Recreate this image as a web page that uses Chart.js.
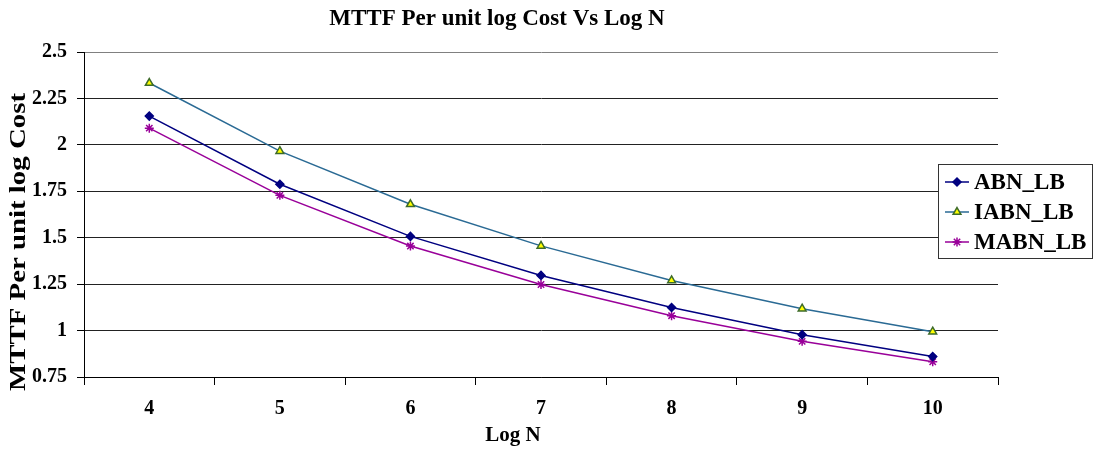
<!DOCTYPE html>
<html>
<head>
<meta charset="utf-8">
<script src="https://cdn.jsdelivr.net/npm/chart.js@4/dist/chart.umd.min.js"></script>
<style>
  html, body { margin: 0; padding: 0; background: #fff; }
  #wrap { width: 1096px; height: 450px; position: relative; }
</style>
</head>
<body>
<div id="wrap"><canvas id="myLineChart"></canvas></div>
<script>
const logN = ['4', '5', '6', '7', '8', '9', '10'];
const abnLB = [2.155, 1.788, 1.507, 1.297, 1.124, 0.978, 0.860];
const iabnLB = [2.333, 1.966, 1.680, 1.456, 1.270, 1.118, 0.994];
const mabnLB = [2.090, 1.728, 1.455, 1.248, 1.080, 0.942, 0.832];
const yTicks = [0.75, 1, 1.25, 1.5, 1.75, 2, 2.25, 2.5];

const chartTitle = 'MTTF Per unit log Cost Vs Log N';
const xTitle = 'Log N';
const yTitle = 'MTTF Per unit log Cost';

const serif = '"Liberation Serif", "Times New Roman", serif';

// titles and the boxed legend are drawn by hand, Excel style
const textPlugin = {
    id: 'excelText',
    afterDraw(chart) {
        const ctx = chart.ctx;
        ctx.save();
        ctx.fillStyle = '#000';
        ctx.textAlign = 'center';
        ctx.textBaseline = 'middle';

        ctx.font = 'bold 23px ' + serif;
        ctx.fillText(chartTitle, 497, 19);

        ctx.font = 'bold 21px ' + serif;
        ctx.fillText(xTitle, 513, 436);

        // y title, a bit longer than its font like in the original picture
        ctx.save();
        ctx.translate(19, 242);
        ctx.rotate(-Math.PI / 2);
        ctx.font = 'bold 23px ' + serif;
        const w = ctx.measureText(yTitle).width;
        ctx.scale(298 / w, 1);
        ctx.fillText(yTitle, 0, 0);
        ctx.restore();

        // legend box
        const lx = 938, ly = 164, lw = 154, lh = 94;
        ctx.fillStyle = '#fff';
        ctx.fillRect(lx, ly, lw, lh);
        ctx.strokeStyle = '#333';
        ctx.lineWidth = 1;
        ctx.strokeRect(lx + 0.5, ly + 0.5, lw, lh);

        chart.data.datasets.forEach((ds, i) => {
            const y = ly + 18 + i * 30;
            ctx.strokeStyle = ds.borderColor;
            ctx.lineWidth = 1.5;
            ctx.beginPath();
            ctx.moveTo(945, y);
            ctx.lineTo(969, y);
            ctx.stroke();
            ctx.fillStyle = ds.pointBackgroundColor;
            ctx.strokeStyle = ds.pointBorderColor;
            Chart.helpers.drawPoint(ctx, {
                pointStyle: ds.pointStyle,
                radius: ds.pointRadius,
                borderWidth: 1
            }, 957, y);
            ctx.fillStyle = '#000';
            ctx.textAlign = 'left';
            ctx.font = 'bold 23px ' + serif;
            ctx.fillText(ds.label, 974, y + 1);
        });
        ctx.restore();
    }
};

const lineConfig = {
    type: 'line',
    data: {
        labels: logN,
        datasets: [
            {
                label: 'ABN_LB',
                data: abnLB,
                borderColor: '#000080',
                borderWidth: 1.5,
                pointStyle: 'rectRot',
                pointRadius: 4,
                pointBackgroundColor: '#000080',
                pointBorderColor: '#000080',
                tension: 0
            },
            {
                label: 'IABN_LB',
                data: iabnLB,
                borderColor: '#2a6a94',
                borderWidth: 1.5,
                pointStyle: 'triangle',
                pointRadius: 4.5,
                pointBackgroundColor: '#ffff00',
                pointBorderColor: '#3d6b2a',
                tension: 0
            },
            {
                label: 'MABN_LB',
                data: mabnLB,
                borderColor: '#990099',
                borderWidth: 1.5,
                pointStyle: 'star',
                pointRadius: 4.5,
                pointBackgroundColor: '#990099',
                pointBorderColor: '#990099',
                pointBorderWidth: 1.5,
                tension: 0
            }
        ]
    },
    options: {
        responsive: false,
        animation: false,
        layout: {
            padding: { left: 0, top: 52, right: 98, bottom: 0 }
        },
        scales: {
            x: {
                offset: true,
                grid: {
                    offset: true,
                    drawOnChartArea: false,
                    tickLength: 8,
                    tickColor: '#000'
                },
                border: { color: '#000', width: 1 },
                ticks: {
                    color: '#000',
                    padding: 12,
                    font: { family: serif, size: 20, weight: 'bold' }
                },
                afterFit(scale) { scale.height = 73; }
            },
            y: {
                min: 0.75,
                max: 2.5,
                afterBuildTicks(scale) {
                    scale.ticks = yTicks.map(v => ({ value: v }));
                },
                grid: {
                    color: ctx => ctx.tick && ctx.tick.value === 2.5 ? '#808080' : '#222',
                    tickColor: '#000',
                    tickLength: 7
                },
                border: { color: '#000', width: 1 },
                ticks: {
                    color: '#000',
                    padding: 10,
                    font: { family: serif, size: 20, weight: 'bold' },
                    callback: v => String(v)
                },
                afterFit(scale) { scale.width = 84; }
            }
        },
        plugins: {
            legend: { display: false },
            title: { display: false },
            tooltip: { enabled: false }
        }
    },
    plugins: [textPlugin]
};

const canvas = document.getElementById('myLineChart');
canvas.width = 1096;
canvas.height = 450;
const myLineChart = new Chart(canvas.getContext('2d'), lineConfig);
</script>
</body>
</html>
